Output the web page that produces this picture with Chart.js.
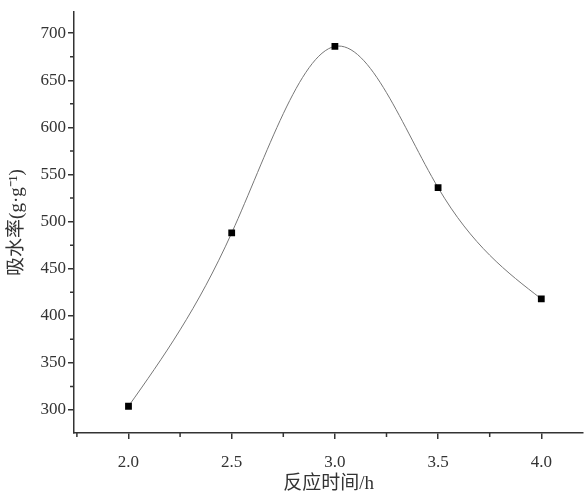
<!DOCTYPE html>
<html>
<head>
<meta charset="utf-8">
<script src="https://cdn.jsdelivr.net/npm/chart.js@4/dist/chart.umd.min.js"></script>
<style>
  html, body { margin: 0; padding: 0; background: #fff; }
  #wrap { width: 588px; height: 493px; }
</style>
</head>
<body>
<div id="wrap"><canvas id="mychart" width="588" height="493"></canvas></div>
<script>
// data
var times = [2.0, 2.5, 3.0, 3.5, 4.0]
var absorb = [304, 488, 686, 536, 418]
var xTicks = [2.0, 2.5, 3.0, 3.5, 4.0]
var yTicks = [300, 350, 400, 450, 500, 550, 600, 650, 700]
var xTitle = "反应时间/h"
var yTitle = "吸水率(g·g⁻¹)"

var axisColor = "#333"
var tickFont = { family: "'Liberation Serif', 'Noto Sans CJK SC'", size: 17 }
var titleFont = { family: "'Liberation Serif', 'Noto Sans CJK SC'", size: 19 }
var xTitleFont = { family: "'Liberation Serif', 'Noto Sans CJK SC'", size: 19, lineHeight: 0.9 }

// slopes of a natural cubic spline through the points (like the original software draws)
function splineSlopes(xs, ys) {
    var n = xs.length, M = new Array(n).fill(0)
    var a = [], b = [], c = [], r = []
    for (var i = 1; i < n - 1; i++) {
        var h0 = xs[i] - xs[i - 1], h1 = xs[i + 1] - xs[i]
        a.push(h0 / 6); b.push((h0 + h1) / 3); c.push(h1 / 6)
        r.push((ys[i + 1] - ys[i]) / h1 - (ys[i] - ys[i - 1]) / h0)
    }
    // thomas algorithm
    var m = r.length
    for (var k = 1; k < m; k++) {
        var f = a[k] / b[k - 1]
        b[k] -= f * c[k - 1]
        r[k] -= f * r[k - 1]
    }
    var sol = new Array(m)
    for (var k = m - 1; k >= 0; k--) {
        sol[k] = (r[k] - (k < m - 1 ? c[k] * sol[k + 1] : 0)) / b[k]
    }
    for (var k = 0; k < m; k++) M[k + 1] = sol[k]
    var d = []
    for (var i = 0; i < n; i++) {
        if (i < n - 1) {
            var h = xs[i + 1] - xs[i]
            d.push((ys[i + 1] - ys[i]) / h - h * (2 * M[i] + M[i + 1]) / 6)
        } else {
            var h = xs[i] - xs[i - 1]
            d.push((ys[i] - ys[i - 1]) / h + h * (M[i - 1] + 2 * M[i]) / 6)
        }
    }
    return d
}

// the smooth line, drawn through the chart's own scales
var splineLine = {
    id: "splineLine",
    beforeDatasetsDraw: function(chart) {
        var ctx = chart.ctx
        var xs = chart.scales.x, ys = chart.scales.y
        var d = splineSlopes(times, absorb)
        ctx.save()
        ctx.strokeStyle = "#777"
        ctx.lineWidth = 1
        ctx.beginPath()
        ctx.moveTo(xs.getPixelForValue(times[0]), ys.getPixelForValue(absorb[0]))
        for (var i = 0; i < times.length - 1; i++) {
            var h = times[i + 1] - times[i]
            ctx.bezierCurveTo(
                xs.getPixelForValue(times[i] + h / 3), ys.getPixelForValue(absorb[i] + d[i] * h / 3),
                xs.getPixelForValue(times[i + 1] - h / 3), ys.getPixelForValue(absorb[i + 1] - d[i + 1] * h / 3),
                xs.getPixelForValue(times[i + 1]), ys.getPixelForValue(absorb[i + 1]))
        }
        ctx.stroke()
        ctx.restore()
    }
}

// small ticks half way between the big ones
var minorTicks = {
    id: "minorTicks",
    afterDraw: function(chart) {
        var ctx = chart.ctx
        var xs = chart.scales.x, ys = chart.scales.y
        ctx.save()
        ctx.strokeStyle = axisColor
        ctx.lineWidth = 1.5
        ctx.beginPath()
        for (var i = 0; i < xTicks.length + 1; i++) {
            var v = (i == 0 ? xTicks[0] - 0.25 : xTicks[i - 1] + 0.25)
            var px = xs.getPixelForValue(v)
            if (px < xs.left || px > xs.right) continue
            ctx.moveTo(px, xs.top)
            ctx.lineTo(px, xs.top + 4)
        }
        for (var j = 0; j < yTicks.length + 1; j++) {
            var w = (j == 0 ? yTicks[0] - 25 : yTicks[j - 1] + 25)
            var py = ys.getPixelForValue(w)
            if (py < ys.top || py > ys.bottom) continue
            ctx.moveTo(ys.right, py)
            ctx.lineTo(ys.right - 4, py)
        }
        ctx.stroke()
        ctx.restore()
    }
}

var points = times.map(function(t, i) { return { x: t, y: absorb[i] } })

var mychart = document.getElementById("mychart").getContext('2d')
var chart = new Chart(mychart, {
    type: 'scatter',
    data: {
        datasets: [{
            data: points,
            showLine: false,
            pointStyle: 'rect',
            pointRadius: 4.8,
            pointBackgroundColor: "#000",
            pointBorderColor: "#000",
            pointBorderWidth: 0
        }]
    },
    options: {
        responsive: false,
        animation: false,
        layout: { padding: { top: 8, left: 0, right: 0, bottom: 0 } },
        plugins: { legend: { display: false }, tooltip: { enabled: false } },
        scales: {
            x: {
                type: 'linear',
                min: 1.736,
                max: 4.203,
                afterBuildTicks: function(s) { s.ticks = xTicks.map(function(v) { return { value: v } }) },
                afterFit: function(s) { s.height = 60 },
                grid: { drawOnChartArea: false, tickLength: 6, color: axisColor, lineWidth: 1.5 },
                border: { color: axisColor, width: 1.5 },
                ticks: { color: "#333", font: tickFont, padding: 13, callback: function(v) { return v.toFixed(1) } },
                title: { display: true, text: xTitle, color: "#333", font: xTitleFont, padding: { top: 0, bottom: 0 } }
            },
            y: {
                min: 275.6,
                max: 722.3,
                afterBuildTicks: function(s) { s.ticks = yTicks.map(function(v) { return { value: v } }) },
                afterFit: function(s) { s.width = 74 },
                grid: { drawOnChartArea: false, tickLength: 6, color: axisColor, lineWidth: 1.5 },
                border: { color: axisColor, width: 1.5 },
                ticks: { color: "#333", font: tickFont, padding: 2 },
                title: { display: true, text: yTitle, color: "#333", font: titleFont, padding: { top: 6, bottom: 0 } }
            }
        }
    },
    plugins: [splineLine, minorTicks]
})
</script>
</body>
</html>
